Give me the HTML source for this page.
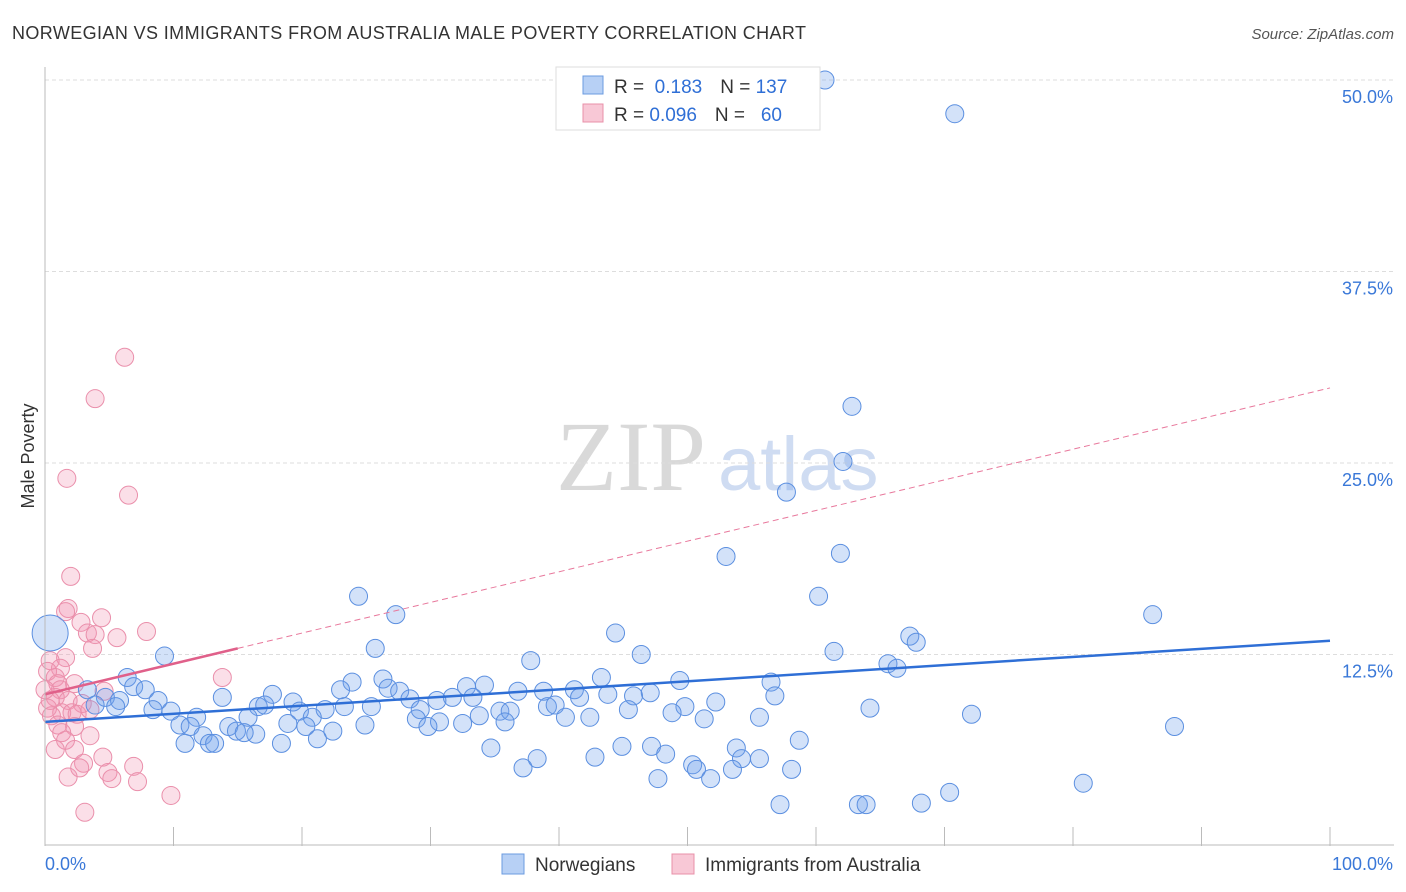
<!DOCTYPE html>
<html><head><meta charset="utf-8">
<style>
body{margin:0;background:#fff;font-family:"Liberation Sans",sans-serif;}
#wrap{position:relative;width:1406px;height:892px;overflow:hidden;}
</style></head>
<body>
<div id="wrap">
<svg id="chart" width="1406" height="892" style="position:absolute;left:0;top:0">
<text x="12" y="39" font-size="18" fill="#333" textLength="794" lengthAdjust="spacing">NORWEGIAN VS IMMIGRANTS FROM AUSTRALIA MALE POVERTY CORRELATION CHART</text>
<text x="1394" y="39" font-size="15" fill="#555" font-style="italic" text-anchor="end">Source: ZipAtlas.com</text>
<text x="556" y="490" font-size="100" fill="#d9d9d9" font-family="Liberation Serif,serif">ZIP</text>
<text x="718" y="490" font-size="76" fill="#cfdcf2">atlas</text>
<text transform="translate(34,456) rotate(-90)" font-size="18" fill="#333" text-anchor="middle">Male Poverty</text>
<g id="grid"></g><g id="pts"></g><g id="trend"></g><g id="axes"></g>
<g>
<rect x="556" y="67" width="264" height="63" fill="#fff" stroke="#ddd"/>
<rect x="583" y="76" width="20" height="18" fill="#b7d0f5" stroke="#6b9be0"/>
<text x="614" y="93" font-size="19" fill="#333">R = <tspan fill="#2f6fd6">&#160;0.183</tspan><tspan dx="18" fill="#333">N = </tspan><tspan fill="#2f6fd6">137</tspan></text>
<rect x="583" y="104" width="20" height="18" fill="#f8c8d6" stroke="#e890a8"/>
<text x="614" y="121" font-size="19" fill="#333">R = <tspan fill="#2f6fd6">0.096</tspan><tspan dx="18" fill="#333">N = </tspan><tspan fill="#2f6fd6">&#160;&#160;60</tspan></text>
</g>
<g>
<rect x="502" y="854" width="22" height="20" fill="#b7d0f5" stroke="#6b9be0"/>
<text x="535" y="871" font-size="19" fill="#333">Norwegians</text>
<rect x="672" y="854" width="22" height="20" fill="#f8c8d6" stroke="#e890a8"/>
<text x="705" y="871" font-size="19" fill="#333">Immigrants from Australia</text>
</g>
</svg>
</div>
<script>
const yTicks=[12.5,25,37.5,50];
const yTickLabels=["12.5%","25.0%","37.5%","50.0%"];
const xTicks=[0,10,20,30,40,50,60,70,80,90,100];
const blueX=[60.7,70.8,62.8,62.1,57.7,53.0,61.9,24.4,60.2,27.3,86.2,44.4,67.3,67.8,25.7,46.4,61.4,9.3,37.8,65.6,66.3,6.4,43.3,56.5,49.4,6.9,23.9,26.3,32.8,34.2,7.8,3.3,4.7,5.8,8.8,13.8,17.7,23.0,26.7,27.6,36.8,38.8,41.2,41.6,43.8,45.8,47.1,56.8,31.7,33.3,30.5,28.4,19.3,3.9,5.5,8.4,9.8,16.6,17.1,19.8,21.8,23.3,25.4,39.1,39.7,45.4,49.8,52.2,64.2,72.1,29.2,35.4,36.2,48.8,55.6,51.3,42.4,40.5,15.8,11.8,18.9,20.8,28.9,30.7,32.5,35.8,33.8,10.5,11.3,14.3,14.9,20.3,22.4,24.9,29.8,87.9,12.3,16.4,15.5,21.2,10.9,12.8,13.2,18.4,58.7,34.7,44.9,47.2,48.3,53.8,54.2,55.6,38.3,42.8,50.4,37.2,50.7,53.5,58.1,51.8,47.7,80.8,70.4,57.2,63.3,63.9,68.2,0.4];
const blueY=[50.0,47.8,28.7,25.1,23.1,18.9,19.1,16.3,16.3,15.1,15.1,13.9,13.7,13.3,12.9,12.5,12.7,12.4,12.1,11.9,11.6,11.0,11.0,10.7,10.8,10.4,10.7,10.9,10.4,10.5,10.2,10.2,9.7,9.5,9.5,9.7,9.9,10.2,10.3,10.1,10.1,10.1,10.2,9.7,9.9,9.8,10.0,9.8,9.7,9.7,9.5,9.6,9.4,9.2,9.1,8.9,8.8,9.1,9.2,8.8,8.9,9.1,9.1,9.1,9.2,8.9,9.1,9.4,9.0,8.6,8.9,8.8,8.8,8.7,8.4,8.3,8.4,8.4,8.4,8.4,8.0,8.4,8.3,8.1,8.0,8.1,8.5,7.9,7.8,7.8,7.5,7.8,7.5,7.9,7.8,7.8,7.2,7.3,7.4,7.0,6.7,6.7,6.7,6.7,6.9,6.4,6.5,6.5,6.0,6.4,5.7,5.7,5.7,5.8,5.3,5.1,5.0,5.0,5.0,4.4,4.4,4.1,3.5,2.7,2.7,2.7,2.8,13.9];
const pinkX=[6.2,3.9,1.7,6.5,2.0,1.8,1.6,4.4,2.8,7.9,3.3,3.9,5.6,3.7,1.6,0.4,1.2,0.2,13.8,0.8,1.0,2.3,1.2,4.6,0.8,1.8,2.9,0.2,1.3,2.1,0.5,2.5,3.5,1.0,2.3,1.3,3.5,1.6,0.8,2.3,4.5,3.0,2.7,6.9,4.9,1.8,5.2,7.2,9.8,3.1,0.4,0.0];
const pinkY=[31.9,29.2,24.0,22.9,17.6,15.5,15.3,14.9,14.6,14.0,13.9,13.8,13.6,12.9,12.3,12.1,11.6,11.4,11.0,11.0,10.6,10.6,10.2,10.1,9.7,9.5,9.3,9.0,8.7,8.7,8.5,8.6,8.9,7.9,7.8,7.4,7.2,6.9,6.3,6.3,5.8,5.4,5.1,5.2,4.8,4.5,4.4,4.2,3.3,2.2,9.5,10.2];
const blueTrend=[8.1,13.4];
const pinkTrend=[9.9,29.9];
const pinkSolidEnd=15;

const NS="http://www.w3.org/2000/svg";
const X0=45,X1=1330,YB=846,YT=80;
const xs=v=>X0+(X1-X0)*v/100;
const ys=v=>YB-(YB-YT)*v/50;
function mk(tag,attrs,parent){const e=document.createElementNS(NS,tag);for(const k in attrs)e.setAttribute(k,attrs[k]);parent.appendChild(e);return e;}
const grid=document.getElementById('grid'),pts=document.getElementById('pts'),tr=document.getElementById('trend'),ax=document.getElementById('axes');
yTicks.forEach((t,i)=>{
  const l=mk('line',{x1:X0,x2:1394,y1:ys(t),y2:ys(t),stroke:'#ddd','stroke-dasharray':'4,3'},grid);
  
  
  const tx=mk('text',{x:1393,y:ys(t)+23,'font-size':18,fill:'#3a78d8','text-anchor':'end'},grid);
  tx.textContent=yTickLabels[i];
  
  
});
const xa=mk('line',{x1:X0,x2:1394,y1:YB-1,y2:YB-1,stroke:'#bbb'},ax);


const ya=mk('line',{x1:X0,x2:X0,y1:67,y2:YB,stroke:'#bbb'},ax);


xTicks.forEach(t=>{
  const l=mk('line',{x1:xs(t),x2:xs(t),y1:YB-19,y2:YB,stroke:'#bbb'},ax);
  
  
});
const xl0=mk('text',{x:45,y:870,'font-size':18,fill:'#3a78d8'},ax);xl0.textContent='0.0%';


const xl1=mk('text',{x:1393,y:870,'font-size':18,fill:'#3a78d8','text-anchor':'end'},ax);xl1.textContent='100.0%';



pinkX.forEach((x,i)=>{
  const c=mk('circle',{cx:xs(x),cy:ys(pinkY[i]),r:9,fill:'rgba(242,150,178,0.3)',stroke:'#ea8fab','stroke-width':1},pts);
  
  
});
blueX.forEach((x,i)=>{
  const big=(i===blueX.length-1);
  const c=mk('circle',{cx:xs(x),cy:ys(blueY[i]),r:big?18:9,fill:'rgba(110,160,235,0.3)',stroke:'#5b8fe0','stroke-width':1},pts);
  
  
});
const bl=mk('line',{x1:xs(0),y1:ys(blueTrend[0]),x2:xs(100),y2:ys(blueTrend[1]),stroke:'#2f6fd6','stroke-width':2.5},tr);


const pAt=v=>pinkTrend[0]+(pinkTrend[1]-pinkTrend[0])*v/100;
const pd=mk('line',{x1:xs(pinkSolidEnd),y1:ys(pAt(pinkSolidEnd)),x2:xs(100),y2:ys(pAt(100)),stroke:'#e8789c','stroke-width':1,'stroke-dasharray':'6,4'},tr);


const ps=mk('line',{x1:xs(0),y1:ys(pAt(0)),x2:xs(pinkSolidEnd),y2:ys(pAt(pinkSolidEnd)),stroke:'#e0608a','stroke-width':2.5},tr);


</script>
</body></html>
